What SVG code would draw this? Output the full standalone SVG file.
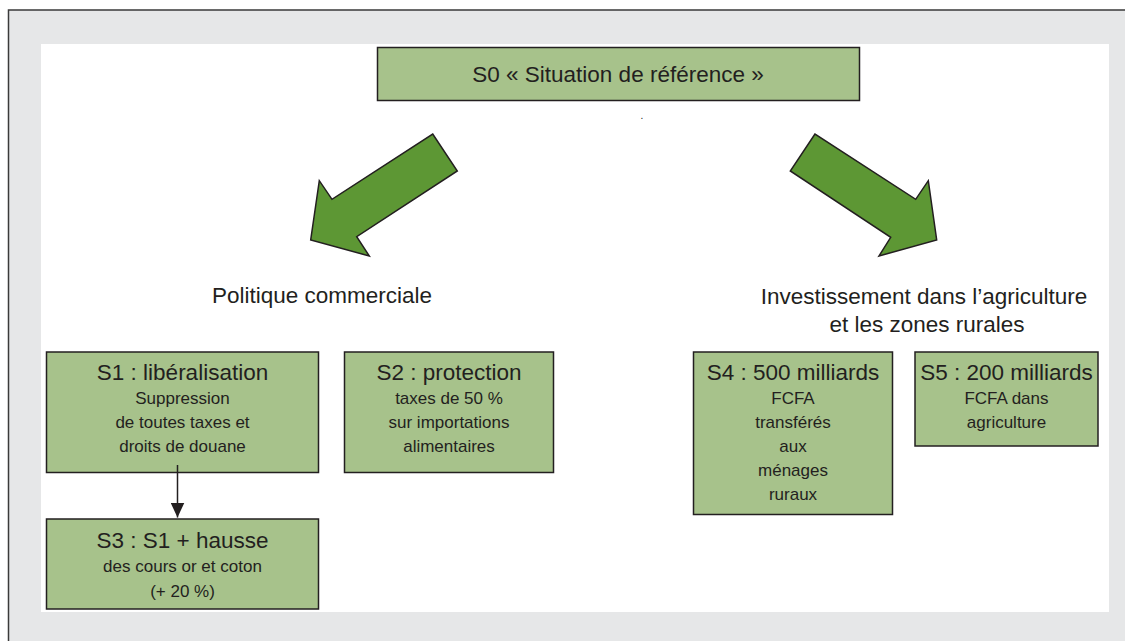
<svg xmlns="http://www.w3.org/2000/svg" width="1125" height="641" viewBox="0 0 1125 641">
<defs>
<style>
.box{fill:#a7c28b;stroke:#231f20;stroke-width:1.5}
.arr{fill:#5d9734;stroke:#231f20;stroke-width:1.5;stroke-linejoin:miter}
text{font-family:"Liberation Sans",Arial,Helvetica,sans-serif;fill:#231f20;text-anchor:middle}
.t{font-size:22.5px}
.s{font-size:17px}
</style>
<marker id="ah" markerWidth="15" markerHeight="14" refX="15" refY="7" orient="auto" markerUnits="userSpaceOnUse">
<path d="M0,0 L15,7 L0,14 Z" fill="#231f20"/>
</marker>
</defs>
<rect x="8.5" y="10" width="1117" height="631" fill="#e6e7e8"/>
<path d="M8.5,641 V10 H1125" fill="none" stroke="#3a3a3a" stroke-width="1.5"/>
<rect x="41" y="44" width="1068" height="568" fill="#ffffff"/>
<g id="S0">
<rect class="box" x="377.5" y="47.5" width="482" height="53"/>
<text class="t" x="618" y="82">S0 « Situation de référence »</text>
</g>
<text x="642" y="119" style="font-size:10px">.</text>
<g id="arrow-left">
<polygon class="arr" points="432.7,134 457.3,171 356.7,236.7 369.3,256 310.7,240 319.3,180.7 332,199.3"/>
</g>
<g id="arrow-right">
<polygon class="arr" points="815,134 790.3,171 890.7,237.3 879,256 936.7,240 928.3,180.7 915.7,199.3"/>
</g>
<g id="label-politique">
<text class="t" x="322" y="303">Politique commerciale</text>
</g>
<g id="label-invest">
<text class="t" x="924" y="304">Investissement dans l’agriculture</text>
<text class="t" x="927" y="331.5">et les zones rurales</text>
</g>
<g id="S1">
<rect class="box" x="46.5" y="352" width="272" height="120.5"/>
<text class="t" x="182.5" y="380">S1 : libéralisation</text>
<text class="s" x="182.5" y="404">Suppression</text>
<text class="s" x="182.5" y="428">de toutes taxes et</text>
<text class="s" x="182.5" y="452">droits de douane</text>
</g>
<g id="S2">
<rect class="box" x="344.5" y="352" width="209" height="120.5"/>
<text class="t" x="449" y="380">S2 : protection</text>
<text class="s" x="449" y="404">taxes de 50 %</text>
<text class="s" x="449" y="428">sur importations</text>
<text class="s" x="449" y="452">alimentaires</text>
</g>
<g id="S3">
<rect class="box" x="46.5" y="519" width="272" height="90"/>
<text class="t" x="182.5" y="548">S3 : S1 + hausse</text>
<text class="s" x="182.5" y="572">des cours or et coton</text>
<text class="s" x="182.5" y="597">(+ 20 %)</text>
</g>
<g id="S4">
<rect class="box" x="693.5" y="352" width="199" height="162.5"/>
<text class="t" x="793" y="380">S4 : 500 milliards</text>
<text class="s" x="793" y="404">FCFA</text>
<text class="s" x="793" y="428">transférés</text>
<text class="s" x="793" y="452">aux</text>
<text class="s" x="793" y="476">ménages</text>
<text class="s" x="793" y="500">ruraux</text>
</g>
<g id="S5">
<rect class="box" x="915" y="352" width="183" height="94"/>
<text class="t" x="1006.5" y="380">S5 : 200 milliards</text>
<text class="s" x="1006.5" y="404">FCFA dans</text>
<text class="s" x="1006.5" y="428">agriculture</text>
</g>
<g id="connectors">
<line x1="177.5" y1="465" x2="177.5" y2="517.5" stroke="#231f20" stroke-width="1.5" marker-end="url(#ah)"/>
</g>
</svg>
